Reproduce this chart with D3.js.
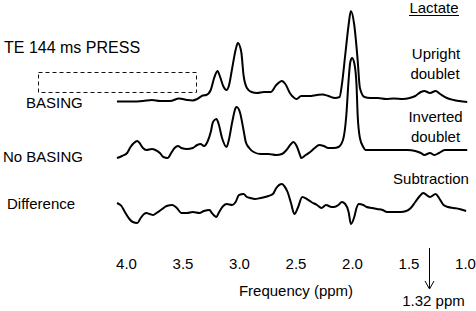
<!DOCTYPE html>
<html>
<head>
<meta charset="utf-8">
<script src="https://cdn.jsdelivr.net/npm/d3@7"></script>
<style>
  body { margin: 0; background: #fff; }
  text { font-family: "Liberation Sans", Arial, Helvetica, sans-serif; fill: #000; }
</style>
</head>
<body>
<div id="chart"></div>
<script>
// spectra: [ppm, intensity (a.u.)]
const basing = [
  [4.08,-0.5],[3.96,-0.5],[3.85,0],[3.77,1],[3.70,0],[3.61,0],[3.53,2.5],[3.46,1],
  [3.41,0.5],[3.37,2],[3.32,5.5],[3.29,6],[3.25,11],[3.22,23],[3.19,30],[3.17,25],
  [3.14,15],[3.11,11],[3.09,15],[3.06,33],[3.03,51],[3.01,58],[2.98,49],[2.96,26],
  [2.93,13],[2.89,9],[2.84,8],[2.78,9],[2.72,9],[2.67,16],[2.62,20],[2.59,17],
  [2.55,8],[2.51,3],[2.49,2],[2.45,5],[2.38,5],[2.31,6],[2.26,6.5],[2.21,5],
  [2.15,3],[2.11,4],[2.09,16],[2.06,46],[2.03,76],[2.01,90],[1.98,76],[1.95,41],
  [1.93,13],[1.89,4],[1.84,3],[1.77,3],[1.70,2],[1.63,2.5],[1.55,2],[1.49,3],
  [1.44,5],[1.39,9],[1.36,10],[1.31,8],[1.26,10],[1.22,7],[1.16,3],[1.10,1],
  [1.05,0],[0.98,-1]
];

const noBasing = [
  [4.08,-8],[4.035,-6],[3.99,-3],[3.96,3],[3.93,7],[3.90,9],[3.88,7],[3.85,2],
  [3.82,0],[3.77,1],[3.74,0],[3.70,-3],[3.67,-7],[3.63,-8],[3.60,-3],[3.57,2],
  [3.54,4],[3.51,2],[3.46,1],[3.41,2],[3.37,5],[3.34,6],[3.31,4],[3.28,8],
  [3.25,18],[3.23,28],[3.20,31],[3.18,26],[3.15,12],[3.11,3],[3.09,10],[3.06,28],
  [3.03,42],[3.02,43],[2.99,37],[2.96,20],[2.94,8],[2.91,2],[2.87,-2],[2.81,-4],
  [2.74,-4],[2.67,-5],[2.62,-4],[2.58,0],[2.54,6],[2.52,8],[2.49,4],[2.46,-5],
  [2.45,-8],[2.41,-5],[2.37,-2],[2.33,2],[2.29,5],[2.25,4],[2.21,2],[2.16,2],
  [2.12,3],[2.08,10],[2.05,35],[2.03,70],[2.015,88],[2.00,92],[1.98,87],[1.96,65],
  [1.95,35],[1.93,12],[1.90,3],[1.88,0],[1.84,0],[1.77,0],[1.68,0],[1.59,0],
  [1.51,0],[1.44,-1],[1.39,-3],[1.36,-5],[1.31,-3],[1.27,-5],[1.23,-3],[1.18,0],
  [1.11,0],[1.05,0],[0.98,0]
];

const difference = [
  [4.08,5],[4.04,2],[4.01,-4],[3.97,-11],[3.94,-14],[3.90,-15],[3.87,-10],[3.84,-6],
  [3.82,-5],[3.79,-6],[3.76,-7],[3.73,-5],[3.68,-1],[3.64,2],[3.59,3],[3.55,0],
  [3.51,-5],[3.46,-5],[3.41,-4],[3.35,-5],[3.31,-3],[3.26,-2],[3.24,-5],[3.20,-9],
  [3.18,-5],[3.14,2],[3.11,4],[3.06,3],[3.03,6],[3.00,13],[2.96,14],[2.93,11],
  [2.90,10],[2.86,9],[2.81,10],[2.77,11],[2.74,12],[2.70,14],[2.67,20],[2.62,24],
  [2.60,22],[2.57,16],[2.54,5],[2.51,-6],[2.48,0],[2.44,11],[2.40,9],[2.36,6],
  [2.31,3],[2.27,0],[2.23,3],[2.18,1],[2.16,1],[2.12,3],[2.09,6],[2.06,4],
  [2.03,-4],[2.01,-16],[1.98,-9],[1.96,0],[1.94,4],[1.90,3],[1.87,1],[1.82,0],
  [1.78,-1],[1.73,-2],[1.69,-4],[1.63,-4],[1.57,-4],[1.52,-3],[1.48,0],[1.44,6],
  [1.40,12],[1.37,15],[1.31,11],[1.26,14],[1.23,10],[1.19,3],[1.15,1],[1.10,0],
  [1.05,-1],[0.99,-3]
];

const traces = [basing, noBasing, difference];
const traceOffsets = [0, -49, -107];   // vertical stacking offset (a.u.)
const traceLabels = ["BASING", "No BASING", "Difference"];
const tickValues = [4.0, 3.5, 3.0, 2.5, 2.0, 1.5, 1.0];
const lactatePpm = 1.32;

const width = 476, height = 311;

const svg = d3.select("#chart")
  .append("svg")
    .attr("width", width)
    .attr("height", height)
    .attr("viewBox", `0 0 ${width} ${height}`);

// scales
const x = d3.scaleLinear().domain([4.0, 1.0]).range([126, 465]);
const y = d3.scaleLinear().domain([-130, 100]).range([231, 1]);

// traces
const line = d3.line()
  .x(d => x(d[0]))
  .y(d => y(d[1]))
  .curve(d3.curveMonotoneX);

svg.append("g")
  .selectAll("path")
  .data(traces.map((t, i) => t.map(p => [p[0], p[1] + traceOffsets[i]])))
  .join("path")
    .attr("fill", "none")
    .attr("stroke", "#000")
    .attr("stroke-width", 2)
    .attr("stroke-linejoin", "round")
    .attr("d", line);

// x axis: labels only
const xAxis = svg.append("g")
  .attr("transform", "translate(0,250)")
  .call(d3.axisBottom(x).tickValues(tickValues).tickFormat(d3.format(".1f")).tickSize(0).tickPadding(8));
xAxis.select(".domain").remove();
xAxis.selectAll("text")
  .attr("fill", "#000")
  .style("font-size", "15px")
  .style("font-family", "'Liberation Sans', Arial, Helvetica, sans-serif");

svg.append("text")
  .attr("x", 296).attr("y", 296)
  .attr("text-anchor", "middle")
  .style("font-size", "15px")
  .text("Frequency (ppm)");

// lactate arrow
const ax = Math.round(x(lactatePpm)) + 0.5;
svg.append("line")
  .attr("x1", ax).attr("x2", ax)
  .attr("y1", 248).attr("y2", 288)
  .attr("stroke", "#000").attr("stroke-width", 1);
svg.append("path")
  .attr("d", `M${ax - 4.5},281 L${ax},289 L${ax + 4.5},281`)
  .attr("fill", "none").attr("stroke", "#000").attr("stroke-width", 1);
svg.append("text")
  .attr("x", 433.5).attr("y", 306)
  .attr("text-anchor", "middle")
  .style("font-size", "15px")
  .text(lactatePpm + " ppm");

// left labels
svg.append("text")
  .attr("x", 4).attr("y", 53)
  .style("font-size", "16px")
  .text("TE 144 ms PRESS");

const labelPos = [[26, 108], [3, 162], [7, 209]];
svg.append("g")
  .selectAll("text")
  .data(traceLabels)
  .join("text")
    .attr("x", (d, i) => labelPos[i][0])
    .attr("y", (d, i) => labelPos[i][1])
    .style("font-size", "15px")
    .text(d => d);

// dashed box
svg.append("rect")
  .attr("x", Math.round(x(4.78)) + 0.5).attr("y", Math.round(y(29)) + 0.5)
  .attr("width", Math.round(x(3.385) - x(4.78)))
  .attr("height", Math.round(y(9) - y(29)))
  .attr("fill", "none")
  .attr("stroke", "#111")
  .attr("stroke-width", 1)
  .attr("stroke-dasharray", "4,3");

// right labels
const rightLabels = [
  ["Lactate", 434, 13],
  ["Upright", 436, 59],
  ["doublet", 435, 79],
  ["Inverted", 435.5, 122],
  ["doublet", 435.5, 142],
  ["Subtraction", 431, 184]
];
svg.append("g")
  .selectAll("text")
  .data(rightLabels)
  .join("text")
    .attr("x", d => d[1])
    .attr("y", d => d[2])
    .attr("text-anchor", "middle")
    .style("font-size", "15px")
    .text(d => d[0]);

svg.append("line")
  .attr("x1", 409).attr("x2", 459)
  .attr("y1", 15.5).attr("y2", 15.5)
  .attr("stroke", "#000").attr("stroke-width", 1);
</script>
</body>
</html>
